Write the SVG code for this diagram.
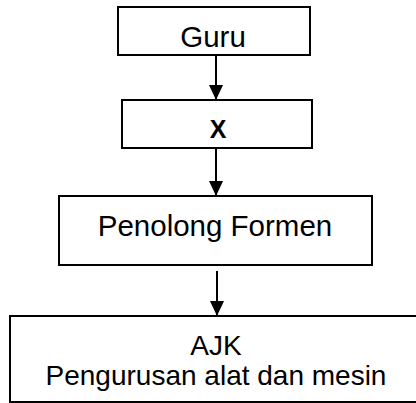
<svg xmlns="http://www.w3.org/2000/svg" width="416" height="403" viewBox="0 0 416 403">
<style>
.box{fill:#fff;stroke:#000;stroke-width:2}
.t{font-family:"Liberation Sans",Arial,sans-serif;font-size:28px;fill:#000;text-anchor:middle}
.l{font-size:29.5px}
.b{font-weight:bold;font-size:25px}
.c{stroke:#000;stroke-width:2;fill:none}
</style>
<defs>
<marker id="ah" markerWidth="14" markerHeight="16" refX="15" refY="7" orient="auto" markerUnits="userSpaceOnUse">
<path d="M0,0 L15,7 L0,14 Z" fill="#000"/>
</marker>
</defs>
<rect width="416" height="403" fill="#fff"/>
<g id="connectors">
<line class="c" x1="216" y1="55" x2="216" y2="100" marker-end="url(#ah)"/>
<line class="c" x1="216" y1="148" x2="216" y2="196" marker-end="url(#ah)"/>
<line class="c" x1="217" y1="271" x2="217" y2="316" marker-end="url(#ah)"/>
</g>
<g id="guru">
<rect class="box" x="118" y="7" width="192" height="48"/>
<text class="t l" x="213" y="47">Guru</text>
</g>
<g id="x">
<rect class="box" x="122" y="100" width="190" height="48"/>
<text class="t b" x="218" y="138">X</text>
</g>
<g id="penolong">
<rect class="box" x="59" y="196" width="313" height="69"/>
<text class="t l" x="215" y="236">Penolong Formen</text>
</g>
<g id="ajk">
<rect class="box" x="10" y="316" width="410" height="86"/>
<text class="t" x="216" y="355">AJK</text>
<text class="t" x="216" y="385">Pengurusan alat dan mesin</text>
</g>
</svg>
